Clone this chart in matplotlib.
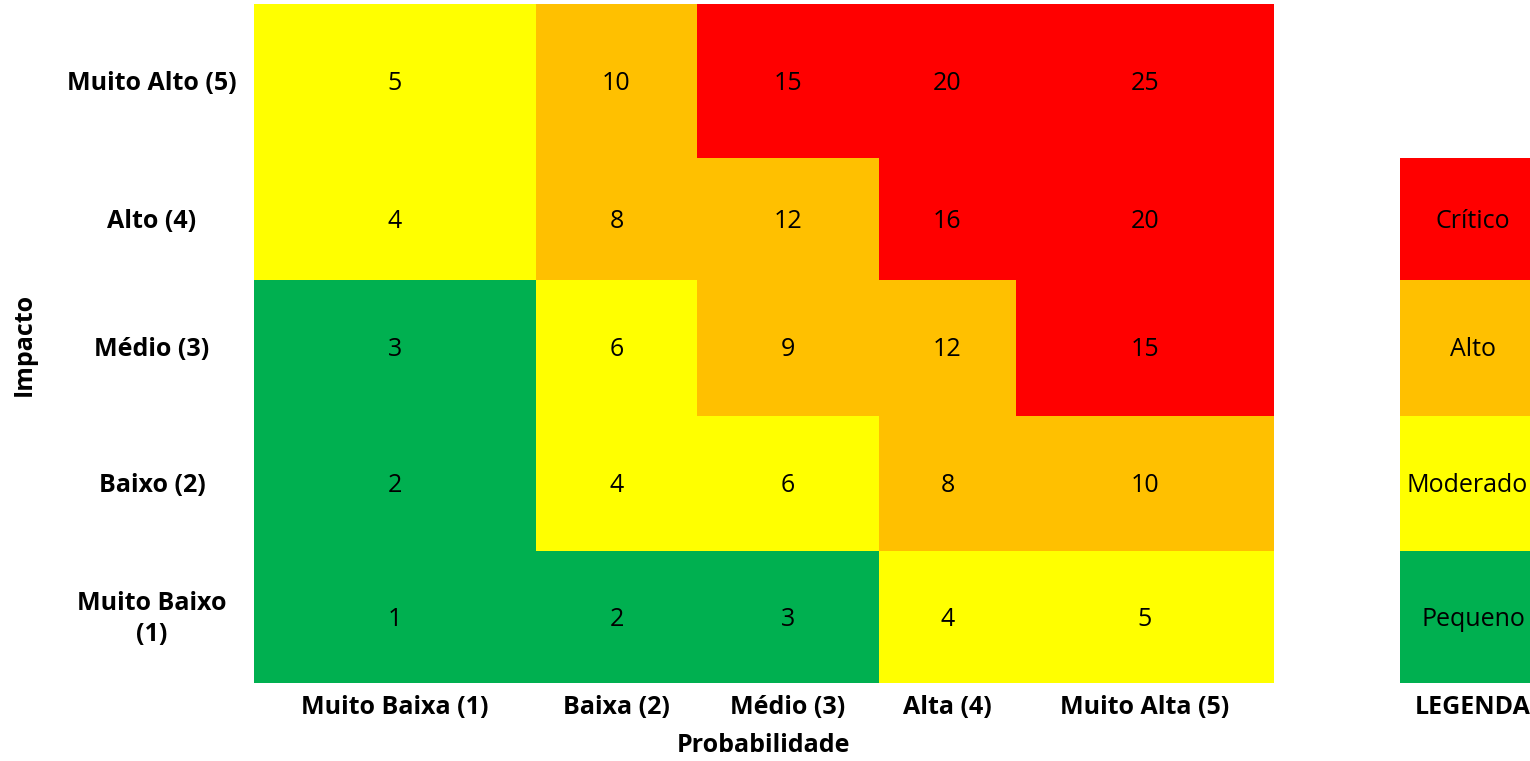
import matplotlib
matplotlib.use("Agg")
import matplotlib.pyplot as plt
import numpy as np
from matplotlib.colors import ListedColormap, BoundaryNorm

# ---- data ----
prob_labels = ["Muito Baixa (1)", "Baixa (2)", "Médio (3)", "Alta (4)", "Muito Alta (5)"]
impact_labels = ["Muito Alto (5)", "Alto (4)", "Médio (3)", "Baixo (2)", "Muito Baixo\n(1)"]
impact_values = [5, 4, 3, 2, 1]
prob_values = [1, 2, 3, 4, 5]
scores = np.array([
    [5, 10, 15, 20, 25],
    [4, 8, 12, 16, 20],
    [3, 6, 9, 12, 15],
    [2, 4, 6, 8, 10],
    [1, 2, 3, 4, 5],
])
legend_labels = ["Crítico", "Alto", "Moderado", "Pequeno"]
legend_levels = [20, 10, 5, 2]

# ---- layout (pixels) ----
W, H = 1530, 761
col_edges = [254, 536, 697, 879, 1016, 1274]
row_edges = [4, 158, 280, 416, 551, 683]
leg_edges_x = [1400, 1546]
leg_edges_y = [158, 280, 416, 551, 683]

colors = ["#00B050", "#FFFF00", "#FFC000", "#FF0000"]
cmap = ListedColormap(colors)
norm = BoundaryNorm([0, 3.5, 7, 13, 26], cmap.N)

FONT = "Open Sans"
fs = 18
dy = 2

fig = plt.figure(figsize=(W / 100, H / 100), dpi=100)
ax = fig.add_axes([0, 0, 1, 1])
ax.set_xlim(0, W)
ax.set_ylim(H, 0)
ax.axis("off")

ax.pcolormesh(col_edges, row_edges, scores, cmap=cmap, norm=norm)
ax.pcolormesh(leg_edges_x, leg_edges_y, np.array(legend_levels).reshape(-1, 1), cmap=cmap, norm=norm)

cx = [(col_edges[i] + col_edges[i + 1]) / 2 for i in range(5)]
cy = [(row_edges[i] + row_edges[i + 1]) / 2 for i in range(5)]
for i in range(5):
    for j in range(5):
        ax.text(cx[j], cy[i] + dy, str(scores[i, j]), ha="center", va="center",
                fontsize=fs, family=FONT, color="black")

for i, lab in enumerate(impact_labels):
    ax.text(152, cy[i] + dy, lab, ha="center", va="center", fontsize=fs,
            family=FONT, fontweight="bold", linespacing=1.3)
for j, lab in enumerate(prob_labels):
    ax.text(cx[j], 707, lab, ha="center", va="center", fontsize=fs,
            family=FONT, fontweight="bold")

ax.text(764, 746, "Probabilidade", ha="center", va="center", fontsize=fs,
        family=FONT, fontweight="bold")
ax.text(24, 344, "Impacto", ha="center", va="center", rotation=90, fontsize=fs,
        family=FONT, fontweight="bold")

lcx = (leg_edges_x[0] + leg_edges_x[1]) / 2
for k, lab in enumerate(legend_labels):
    ly = (leg_edges_y[k] + leg_edges_y[k + 1]) / 2
    # keep the widest label fully inside the figure
    ax.text(1528, ly + dy, lab, ha="right", va="center", fontsize=fs, family=FONT,
            color="black") if lab == "Moderado" else \
        ax.text(lcx, ly + dy, lab, ha="center", va="center", fontsize=fs, family=FONT,
                color="black")
ax.text(lcx, 707, "LEGENDA", ha="center", va="center", fontsize=fs,
        family=FONT, fontweight="bold")

fig.savefig("out.png", dpi=100)
